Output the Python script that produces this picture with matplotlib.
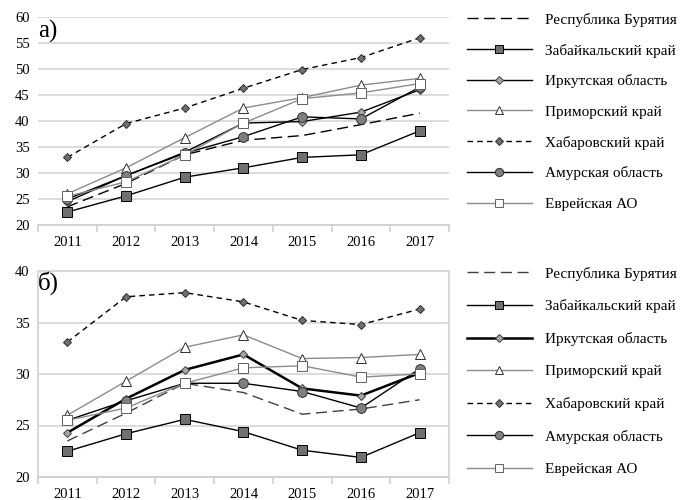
import matplotlib.pyplot as plt

plt.rcParams['font.family'] = ['Liberation Serif', 'DejaVu Serif']

years = ['2011', '2012', '2013', '2014', '2015', '2016', '2017']
regions = ['Республика Бурятия', 'Забайкальский край', 'Иркутская область',
           'Приморский край', 'Хабаровский край', 'Амурская область', 'Еврейская АО']

# panel a)
a_buryatia = [23.5, 28.0, 33.5, 36.3, 37.2, 39.3, 41.5]
a_zabaik = [22.5, 25.6, 29.2, 31.0, 33.0, 33.5, 38.1]
a_irkutsk = [24.5, 29.5, 34.0, 39.6, 39.9, 41.7, 46.0]
a_primor = [26.0, 31.0, 36.8, 42.5, 44.5, 46.9, 48.2]
a_khabar = [33.0, 39.5, 42.5, 46.3, 49.9, 52.2, 56.0]
a_amur = [25.0, 29.5, 33.8, 37.0, 40.8, 40.4, 46.5]
a_evr = [25.5, 28.3, 33.5, 39.6, 44.3, 45.4, 47.2]

# panel б)
b_buryatia = [23.5, 26.2, 29.1, 28.2, 26.1, 26.6, 27.5]
b_zabaik = [22.5, 24.2, 25.6, 24.4, 22.6, 21.9, 24.3]
b_irkutsk = [24.3, 27.6, 30.4, 31.9, 28.6, 27.9, 30.1]
b_primor = [26.0, 29.3, 32.6, 33.8, 31.5, 31.6, 31.9]
b_khabar = [33.1, 37.5, 37.9, 37.0, 35.2, 34.8, 36.3]
b_amur = [25.5, 27.4, 29.1, 29.1, 28.3, 26.7, 30.5]
b_evr = [25.5, 26.7, 29.1, 30.6, 30.8, 29.7, 30.0]

fig = plt.figure(figsize=(6.82, 5.0), dpi=100)
ax1 = fig.add_axes([0.0557, 0.55, 0.6026, 0.416])
ax2 = fig.add_axes([0.0557, 0.046, 0.6026, 0.412])


def draw(ax, data, bur_color, irk_lw, lspace):
    x = range(len(years))
    bur, zab, irk, pri, kha, amu, evr = data
    ax.plot(x, bur, color=bur_color, lw=1.0, dashes=(8, 4), label=regions[0])
    ax.plot(x, zab, color='black', lw=1.0, marker='s', ms=6.5, mfc='#707070',
            mec='black', mew=0.7, label=regions[1])
    ax.plot(x, irk, color='black', lw=irk_lw, marker='D', ms=4.5, mfc='#a6a6a6',
            mec='#404040', mew=0.7, label=regions[2])
    ax.plot(x, pri, color='#8c8c8c', lw=1.0, marker='^', ms=7, mfc='white',
            mec='#303030', mew=0.7, label=regions[3])
    ax.plot(x, kha, color='black', lw=1.0, dashes=(4, 3), marker='D', ms=4.5,
            mfc='#707070', mec='#303030', mew=0.7, label=regions[4])
    ax.plot(x, amu, color='black', lw=1.0, marker='o', ms=7, mfc='#7f7f7f',
            mec='#303030', mew=0.7, label=regions[5])
    ax.plot(x, evr, color='#8c8c8c', lw=1.0, marker='s', ms=7, mfc='white',
            mec='#606060', mew=0.7, label=regions[6])

    ax.set_xlim(-0.5, len(years) - 0.5)
    ax.set_xticks(range(len(years)))
    ax.set_xticklabels(years)
    ax.set_xticks([i - 0.5 for i in range(len(years) + 1)], minor=True)
    ax.tick_params(axis='x', which='major', length=0, labelsize=10.5, pad=8)
    ax.tick_params(axis='x', which='minor', length=5, color='#d0d0d0', width=1.2)
    ax.tick_params(axis='y', length=0, labelsize=10.5, pad=6)
    ax.grid(axis='y', color='#d9d9d9', lw=1.3)
    ax.set_axisbelow(True)
    for s in ['top', 'right', 'left']:
        ax.spines[s].set_visible(False)
    ax.spines['bottom'].set_color('#d0d0d0')
    ax.spines['bottom'].set_linewidth(1.3)
    ax.legend(loc='upper left', bbox_to_anchor=(1.03, 1.05), frameon=False,
              fontsize=11, handlelength=4.2, handletextpad=0.9,
              labelspacing=lspace, borderaxespad=0, markerscale=0.85)


draw(ax1, [a_buryatia, a_zabaik, a_irkutsk, a_primor, a_khabar, a_amur, a_evr],
     'black', 1.0, 1.1)
ax1.set_ylim(20, 60)
ax1.set_yticks(range(20, 61, 5))
ax1.text(0.0, 0.985, 'а)', transform=ax1.transAxes, fontsize=18, va='top', ha='left')

draw(ax2, [b_buryatia, b_zabaik, b_irkutsk, b_primor, b_khabar, b_amur, b_evr],
     '#404040', 1.8, 1.22)
ax2.set_ylim(20, 40)
ax2.set_yticks(range(20, 41, 5))
ax2.text(0.0, 1.0, 'б)', transform=ax2.transAxes, fontsize=18, va='top', ha='left')
for s in ['top', 'right', 'left']:
    ax2.spines[s].set_visible(True)
    ax2.spines[s].set_color('#d9d9d9')
    ax2.spines[s].set_linewidth(1.5)

fig.savefig('out.png', dpi=100)
